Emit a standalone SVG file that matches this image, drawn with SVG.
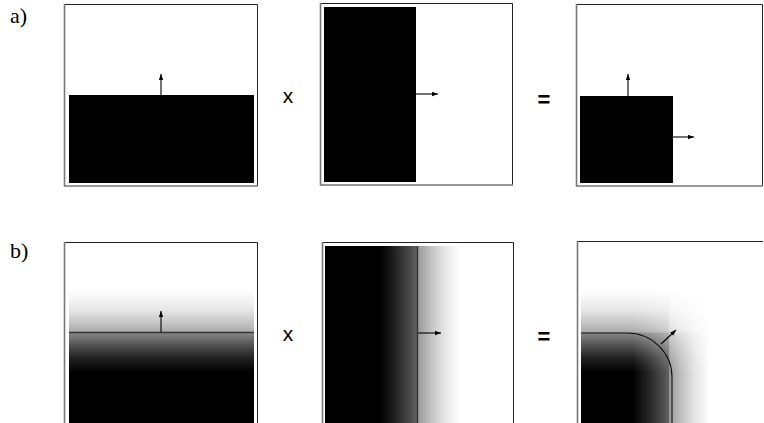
<svg xmlns="http://www.w3.org/2000/svg" width="764" height="423" viewBox="0 0 764 423">
<style>
.fr1{fill:none;stroke:#222;stroke-width:1}
.fr2{fill:none;stroke:#777;stroke-width:1.6}
.edge{fill:none;stroke:#333;stroke-width:1.3}
.cont{fill:none;stroke:#111;stroke-width:1.1}
.arr{fill:none;stroke:#000;stroke-width:1.1;marker-end:url(#ah)}
.lbl{font-family:"Liberation Serif","Times New Roman",serif;font-size:22px;fill:#000}
.op{font-family:"Liberation Sans",Arial,sans-serif;font-size:21px;fill:#000}
.eq{font-family:"Liberation Sans",Arial,sans-serif;font-size:22px;font-weight:bold;fill:#000}
</style>
<defs>
<marker id="ah" markerUnits="userSpaceOnUse" markerWidth="7" markerHeight="5" refX="6" refY="2.2" orient="auto">
<path d="M0,0 L6,2.2 L0,4.4 Z" fill="#000"/>
</marker>
<linearGradient id="gv" gradientUnits="userSpaceOnUse" x1="0" y1="290" x2="0" y2="372">
<stop offset="0" stop-color="#fff"/>
<stop offset="0.244" stop-color="#e6e6e6"/>
<stop offset="0.427" stop-color="#bfbfbf"/>
<stop offset="0.512" stop-color="#ababab"/>
<stop offset="0.524" stop-color="#878787"/>
<stop offset="0.67" stop-color="#545454"/>
<stop offset="0.83" stop-color="#212121"/>
<stop offset="1" stop-color="#000"/>
</linearGradient>
<linearGradient id="gh1" gradientUnits="userSpaceOnUse" x1="380" y1="0" x2="460" y2="0">
<stop offset="0" stop-color="#000"/>
<stop offset="0.1875" stop-color="#222"/>
<stop offset="0.375" stop-color="#4a4a4a"/>
<stop offset="0.4625" stop-color="#606060"/>
<stop offset="0.475" stop-color="#999"/>
<stop offset="0.625" stop-color="#c0c0c0"/>
<stop offset="0.8125" stop-color="#e6e6e6"/>
<stop offset="1" stop-color="#fff"/>
</linearGradient>
<linearGradient id="gh2" href="#gh1" gradientUnits="userSpaceOnUse" x1="633" y1="0" x2="710" y2="0"/>
</defs>

<g id="label-a"><text class="lbl" x="10" y="23">a)</text></g>
<g id="label-b"><text class="lbl" x="10" y="258">b)</text></g>

<g id="a1">
<rect x="69" y="95" width="185" height="88" fill="#000"/>
<path class="fr1" d="M64,4.5 H257.5 V186"/>
<path class="fr2" d="M64.5,4 V186 H258"/>
</g>
<g id="op-a-x"><text class="op" x="288" y="103" text-anchor="middle">x</text></g>
<g id="a2">
<rect x="324" y="7" width="92" height="175" fill="#000"/>
<path class="fr1" d="M320,3.5 H512.5 V185"/>
<path class="fr2" d="M320.5,3 V185 H513"/>
</g>
<g id="op-a-eq"><text class="eq" x="544" y="107" text-anchor="middle">=</text></g>
<g id="a3">
<rect x="580" y="96" width="93" height="87" fill="#000"/>
<path class="fr1" d="M576,4.5 H762.5 V186"/>
<path class="fr2" d="M576.5,4 V186 H763"/>
</g>

<g id="b1">
<rect x="69" y="246" width="185" height="177" fill="url(#gv)"/>
<path class="fr1" d="M64,242.5 H257.5 V423"/>
<path class="fr2" d="M64.5,242 V423"/>
</g>
<g id="op-b-x"><text class="op" x="288" y="341" text-anchor="middle">x</text></g>
<g id="b2">
<rect x="325" y="246" width="185" height="177" fill="url(#gh1)"/>
<path class="fr1" d="M322,242.5 H513.5 V423"/>
<path class="fr2" d="M322.5,242 V423"/>
</g>
<g id="op-b-eq"><text class="eq" x="544" y="344" text-anchor="middle">=</text></g>
<g id="b3">
<g style="isolation:isolate">
<rect x="581" y="245" width="182" height="178" fill="url(#gv)"/>
<rect x="581" y="245" width="182" height="178" fill="url(#gh2)" style="mix-blend-mode:screen"/>
</g>
<path class="fr1" d="M577,241.5 H763"/>
<path class="fr2" d="M577.5,241 V423"/>
</g>

<g id="connectors">
<path class="edge" d="M69,332.5 H254"/>
<path class="edge" d="M417.5,246 V423"/>
<path class="cont" d="M581,333 H627 A45,44 0 0 1 672,377 V423"/>
<path class="arr" d="M161,95 V74"/>
<path class="arr" d="M416,94 H438"/>
<path class="arr" d="M628,96 V74"/>
<path class="arr" d="M673,137 H694"/>
<path class="arr" d="M161,332 V311"/>
<path class="arr" d="M418,333 H441"/>
<path class="arr" d="M661,344 L676,330"/>
</g>
</svg>
